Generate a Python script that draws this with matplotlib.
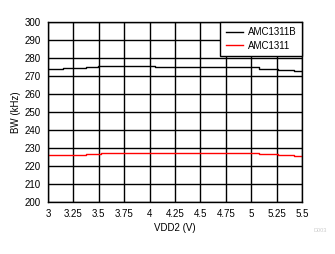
import numpy as np
import matplotlib.pyplot as plt

plt.rcParams['font.family'] = ['Liberation Sans', 'DejaVu Sans']

# supply voltage breakpoints (V) and bandwidth values (kHz), held until next point
vdd_b = [3.0, 3.15, 3.37, 3.49, 4.05, 5.08, 5.26, 5.42, 5.5]
bw_b = [274.05, 274.6, 275.2, 275.6, 275.0, 274.05, 273.3, 272.8, 272.8]

vdd_r = [3.0, 3.37, 3.52, 5.08, 5.26, 5.42, 5.5]
bw_r = [225.9, 226.7, 227.4, 226.4, 225.9, 225.3, 225.3]

xticks = [3, 3.25, 3.5, 3.75, 4, 4.25, 4.5, 4.75, 5, 5.25, 5.5]
xlabels = ['3', '3.25', '3.5', '3.75', '4', '4.25', '4.5', '4.75', '5', '5.25', '5.5']
yticks = np.arange(200, 301, 10)

fig = plt.figure(figsize=(3.35, 2.54), dpi=100)
ax = fig.add_axes([48/335, 1-202/254, 254/335, 180/254])

ax.plot(vdd_b, bw_b, color='black', linewidth=1, drawstyle='steps-post', label='AMC1311B')
ax.plot(vdd_r, bw_r, color='red', linewidth=1, drawstyle='steps-post', label='AMC1311')

ax.set_xlim(3, 5.5)
ax.set_ylim(200, 300)
ax.set_xticks(xticks)
ax.set_xticklabels(xlabels)
ax.set_yticks(yticks)
ax.grid(True, color='black', linewidth=1)
ax.set_axisbelow(True)
ax.tick_params(length=0, labelsize=7, pad=5)
for s in ax.spines.values():
    s.set_linewidth(1)

ax.set_xlabel('VDD2 (V)', fontsize=7, labelpad=3)
ax.set_ylabel('BW (kHz)', fontsize=7, labelpad=3)

leg = ax.legend(loc='upper right', fontsize=7, frameon=True, fancybox=False,
                edgecolor='black', framealpha=1, borderaxespad=0,
                handlelength=1.8, handletextpad=0.5, borderpad=0.55, labelspacing=0.35)
leg.get_frame().set_linewidth(1)

fig.text(0.955, 0.085, 'D003', fontsize=4, color='#cccccc', ha='center')

fig.savefig('out.png', dpi=100)
